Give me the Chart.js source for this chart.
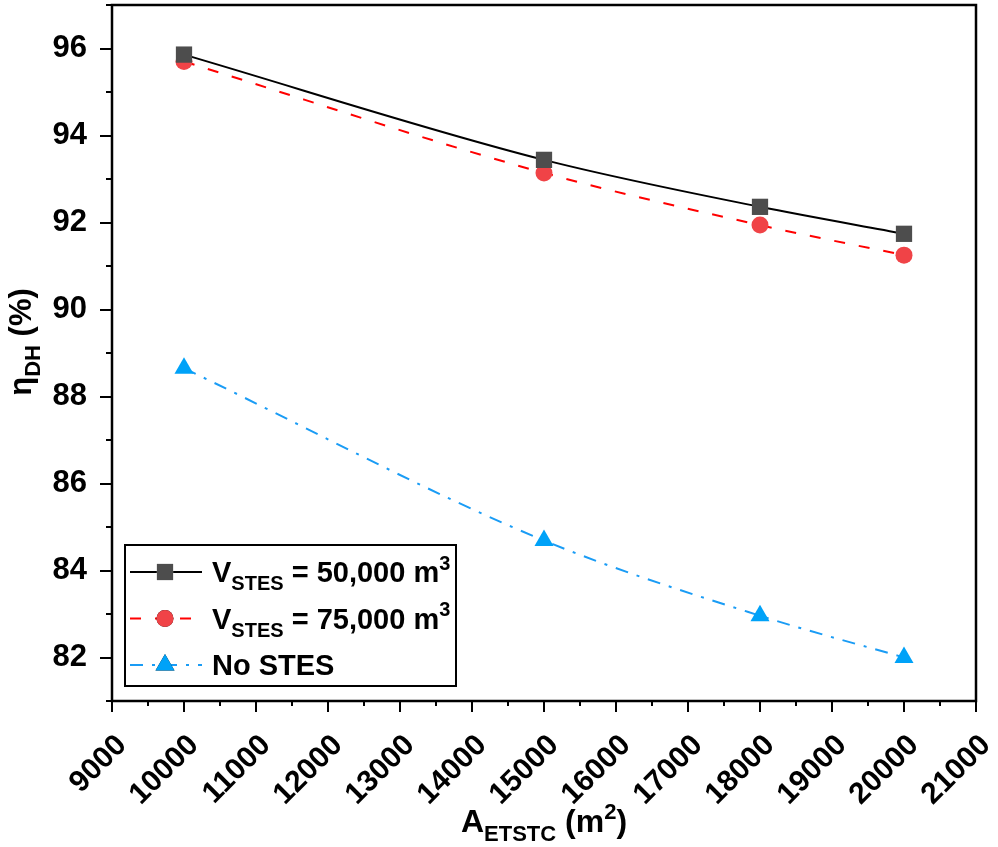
<!DOCTYPE html>
<html>
<head>
<meta charset="utf-8">
<script src="https://cdn.jsdelivr.net/npm/chart.js@4.4.0/dist/chart.umd.min.js"></script>
<style>
  html, body { margin: 0; padding: 0; background: #fff; }
  #wrap { width: 998px; height: 847px; position: relative; }
</style>
</head>
<body>
<div id="wrap"><canvas id="etaChart"></canvas></div>
<script>
'use strict';

// collector area (m2) and district heating efficiency (%)
var collectorArea = [10000, 15000, 18000, 20000];
var etaV50 = [95.86, 93.44, 92.36, 91.74];
var etaV75 = [95.70, 93.14, 91.94, 91.25];
var etaNoStes = [88.65, 84.69, 82.96, 82.00];

var xTickValues = [9000, 10000, 11000, 12000, 13000, 14000, 15000, 16000, 17000, 18000, 19000, 20000, 21000];
var yTickValues = [82, 84, 86, 88, 90, 92, 94, 96];

// legend labels as [text, kind] runs: n = normal, sub, sup
var legendRuns = [
    [['V', 'n'], ['STES', 'sub'], [' = 50,000 m', 'n'], ['3', 'sup']],
    [['V', 'n'], ['STES', 'sub'], [' = 75,000 m', 'n'], ['3', 'sup']],
    [['No STES', 'n']]
];
var xTitleRuns = [['A', 'n'], ['ETSTC', 'sub'], [' (m', 'n'], ['2', 'sup'], [')', 'n']];
var yTitleRuns = [['\u03b7', 'n'], ['DH', 'sub'], [' (%)', 'n']];

var FONT = "'Liberation Sans', Arial, sans-serif";

function toPoints(ys) {
    return collectorArea.map(function (x, i) { return { x: x, y: ys[i] }; });
}

// measures / draws a run of normal, subscript and superscript text
function runWidth(ctx, runs, size) {
    var w = 0;
    runs.forEach(function (r) {
        ctx.font = 'bold ' + (r[1] === 'n' ? size : Math.round(size * 0.7)) + 'px ' + FONT;
        w += ctx.measureText(r[0]).width;
    });
    return w;
}
function drawRuns(ctx, runs, x, y, size) {
    runs.forEach(function (r) {
        var s = r[1] === 'n' ? size : Math.round(size * 0.7);
        var dy = r[1] === 'sub' ? size * 0.28 : (r[1] === 'sup' ? -size * 0.42 : 0);
        ctx.font = 'bold ' + s + 'px ' + FONT;
        ctx.fillText(r[0], x, y + dy);
        x += ctx.measureText(r[0]).width;
    });
}

var frameAndTicks = {
    id: 'frameAndTicks',
    afterDatasetsDraw: function (chart) {
        var ctx = chart.ctx, a = chart.chartArea;
        var xs = chart.scales.x, ys = chart.scales.y;
        ctx.save();
        ctx.strokeStyle = '#000';
        ctx.lineWidth = 2;
        ctx.beginPath();
        xTickValues.forEach(function (v, i) {
            var px = Math.round(xs.getPixelForValue(v));
            ctx.moveTo(px, a.bottom); ctx.lineTo(px, a.bottom + 11);
            if (i < xTickValues.length - 1) {
                var mx = Math.round(xs.getPixelForValue(v + 500));
                ctx.moveTo(mx, a.bottom); ctx.lineTo(mx, a.bottom + 5);
            }
        });
        yTickValues.forEach(function (v) {
            var py = Math.round(ys.getPixelForValue(v));
            ctx.moveTo(a.left, py); ctx.lineTo(a.left - 12, py);
        });
        for (var m = ys.min; m <= ys.max; m += 2) {
            var my = Math.round(ys.getPixelForValue(m));
            ctx.moveTo(a.left, my); ctx.lineTo(a.left - 6, my);
        }
        ctx.stroke();
        ctx.lineWidth = 2.5;
        ctx.strokeRect(a.left, a.top, a.right - a.left, a.bottom - a.top);

        // axis titles
        ctx.fillStyle = '#000';
        ctx.textBaseline = 'alphabetic';
        var tw = runWidth(ctx, xTitleRuns, 32);
        drawRuns(ctx, xTitleRuns, (a.left + a.right) / 2 - tw / 2, 832, 32);
        ctx.save();
        ctx.translate(31, 342);
        ctx.rotate(-Math.PI / 2);
        tw = runWidth(ctx, yTitleRuns, 31);
        drawRuns(ctx, yTitleRuns, -tw / 2, 0, 31);
        ctx.restore();

        // legend box
        var bx = 125, by = 545, bw = 331, bh = 141, rowH = 46.5;
        ctx.fillStyle = '#fff';
        ctx.fillRect(bx, by, bw, bh);
        ctx.lineWidth = 2;
        ctx.strokeStyle = '#000';
        ctx.strokeRect(bx, by, bw, bh);
        chart.data.datasets.forEach(function (ds, i) {
            var cy = by + 27 + i * rowH;
            ctx.save();
            ctx.strokeStyle = ds.borderColor;
            ctx.lineWidth = ds.borderWidth;
            ctx.setLineDash(ds.borderDash || []);
            ctx.beginPath();
            ctx.moveTo(bx + 5, cy); ctx.lineTo(bx + 77, cy);
            ctx.stroke();
            ctx.restore();
            Chart.helpers.drawPoint(ctx, {
                pointStyle: ds.pointStyle, radius: ds.pointRadius, borderWidth: 0, rotation: 0
            }, bx + 40, cy);
            ctx.fillStyle = ds.pointBackgroundColor;
            ctx.fill();
            ctx.fillStyle = '#000';
            drawRuns(ctx, legendRuns[i], bx + 87, cy + 10, 29);
        });
        ctx.restore();
    }
};

function plainTick(v) { return String(v); }

new Chart(document.getElementById('etaChart'), {
    type: 'line',
    data: {
        datasets: [{
            data: toPoints(etaV50),
            borderColor: '#000000',
            borderWidth: 2,
            pointStyle: 'rect',
            pointRadius: 11.5,
            pointBackgroundColor: '#4d4d4d',
            pointBorderWidth: 0
        }, {
            data: toPoints(etaV75),
            borderColor: '#ff0000',
            borderWidth: 2,
            borderDash: [11, 14],
            pointStyle: 'circle',
            pointRadius: 8.5,
            pointBackgroundColor: '#f04347',
            pointBorderWidth: 0
        }, {
            data: toPoints(etaNoStes),
            borderColor: '#1a9cf5',
            borderWidth: 2,
            borderDash: [13, 9, 3, 9],
            pointStyle: 'triangle',
            pointRadius: 11,
            pointBackgroundColor: '#00a2f8',
            pointBorderWidth: 0
        }]
    },
    options: {
        responsive: true,
        maintainAspectRatio: false,
        animation: false,
        layout: { autoPadding: false, padding: { left: 0, top: 5, right: 22, bottom: 0 } },
        elements: { line: { cubicInterpolationMode: 'monotone' } },
        plugins: { legend: { display: false }, tooltip: { enabled: false } },
        scales: {
            x: {
                type: 'linear',
                min: 9000,
                max: 21000,
                grid: { display: false },
                border: { display: false },
                afterBuildTicks: function (s) { s.ticks = xTickValues.map(function (v) { return { value: v }; }); },
                afterFit: function (s) {
                    s.height = 146;
                    s.paddingLeft = 0;
                    s.paddingRight = 0;
                },
                ticks: {
                    autoSkip: false,
                    minRotation: 45,
                    maxRotation: 45,
                    padding: 19,
                    labelOffset: 10,
                    color: '#000',
                    callback: plainTick,
                    font: { family: FONT, size: 30, weight: 'bold' }
                }
            },
            y: {
                min: 81,
                max: 97,
                grid: { display: false },
                border: { display: false },
                afterBuildTicks: function (s) { s.ticks = yTickValues.map(function (v) { return { value: v }; }); },
                afterFit: function (s) {
                    s.width = 112;
                    s.paddingTop = 0;
                    s.paddingBottom = 0;
                },
                ticks: {
                    padding: 17,
                    color: '#000',
                    callback: plainTick,
                    font: { family: FONT, size: 31, weight: 'bold' }
                }
            }
        }
    },
    plugins: [frameAndTicks]
});
</script>
</body>
</html>
